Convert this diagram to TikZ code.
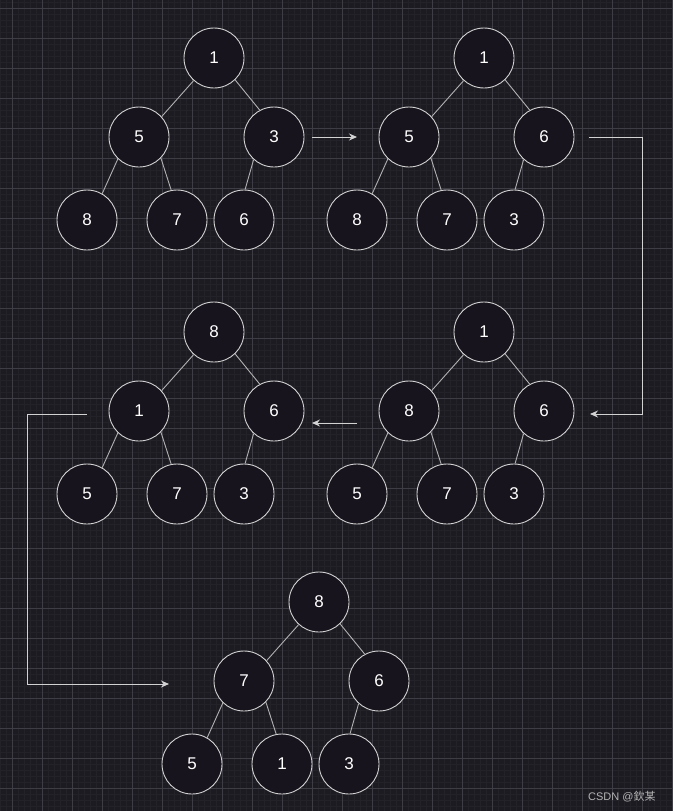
\documentclass[tikz,border=0pt]{standalone}
\usepackage{fontspec}
\setmainfont{Liberation Sans}
\newfontfamily\cjk{Noto Sans CJK SC}
\usetikzlibrary{arrows.meta}
\definecolor{bg}{HTML}{1C1B22}
\definecolor{gminor}{HTML}{232229}
\definecolor{gmajor}{HTML}{3E3D45}
\definecolor{nfill}{HTML}{18141D}
\definecolor{nstroke}{HTML}{D2D2D2}
\definecolor{wmcol}{HTML}{B4B4B4}
\tikzset{
  hnode/.style={circle, minimum size=60pt, inner sep=0pt, draw=nstroke, fill=nfill,
    line width=0.9pt, text=white, font=\fontsize{17}{20}\selectfont},
  edge/.style={draw=nstroke!85!black, line width=0.9pt},
  flow/.style={draw=nstroke, line width=1pt, -{Stealth[length=8pt,width=7pt]}}
}
\newcommand\heaptree[8]{%
  \begin{scope}[shift={(#2)}]
    \node[hnode] (#1r) at (0,0) {#3};
    \node[hnode] (#1a) at (-75,79) {#4};
    \node[hnode] (#1b) at (60,79) {#5};
    \node[hnode] (#1c) at (-127,162) {#6};
    \node[hnode] (#1d) at (-37,162) {#7};
    \node[hnode] (#1e) at (30,162) {#8};
    \draw[edge] (#1r.228) -- (#1a.42);
    \draw[edge] (#1r.314) -- (#1b.118);
    \draw[edge] (#1a.226) -- (#1c.60);
    \draw[edge] (#1a.316) -- (#1d.101);
    \draw[edge] (#1b.228) -- (#1e.88);
  \end{scope}}
\begin{document}
\begin{tikzpicture}[x=1pt,y=-1pt]
  \useasboundingbox (0,0) rectangle (672,811);
  \fill[bg] (0,0) rectangle (672,811);
  % grid
  \foreach \x in {0,6,...,672} \draw[gminor, line width=0.8pt] (\x,0) -- (\x,811);
  \foreach \y in {2,8,...,811} \draw[gminor, line width=0.8pt] (0,\y) -- (672,\y);
  \foreach \x in {12,42,...,672} \draw[gmajor, line width=1pt] (\x,0) -- (\x,811);
  \foreach \y in {8,38,...,811} \draw[gmajor, line width=1pt] (0,\y) -- (672,\y);
  % trees
  \heaptree{t1}{214,58}{1}{5}{3}{8}{7}{6}
  \heaptree{t2}{484,58}{1}{5}{6}{8}{7}{3}
  \heaptree{t3}{214,332}{8}{1}{6}{5}{7}{3}
  \heaptree{t4}{484,332}{1}{8}{6}{5}{7}{3}
  \heaptree{t5}{319,602}{8}{7}{6}{5}{1}{3}
  % arrows
  \coordinate (a1s) at (312,137);
  \coordinate (a1e) at (357,137);
  \draw[flow] (a1s) -- (a1e);
  \coordinate (a2s) at (589,137);
  \coordinate (a2m1) at (642,137);
  \coordinate (a2m2) at (642,414);
  \coordinate (a2e) at (590,414);
  \draw[flow] (a2s) -- (a2m1) -- (a2m2) -- (a2e);
  \coordinate (a3s) at (357,423);
  \coordinate (a3e) at (312,423);
  \draw[flow] (a3s) -- (a3e);
  \coordinate (a4s) at (87,414);
  \coordinate (a4m1) at (27,414);
  \coordinate (a4m2) at (27,684);
  \coordinate (a4e) at (169,684);
  \draw[flow] (a4s) -- (a4m1) -- (a4m2) -- (a4e);
  % watermark
  \node[font=\fontsize{11}{13}\selectfont, text=wmcol, anchor=base west, inner sep=0pt] (wm) at (588,800) {CSDN @{\cjk 欽某}};
\end{tikzpicture}
\end{document}
